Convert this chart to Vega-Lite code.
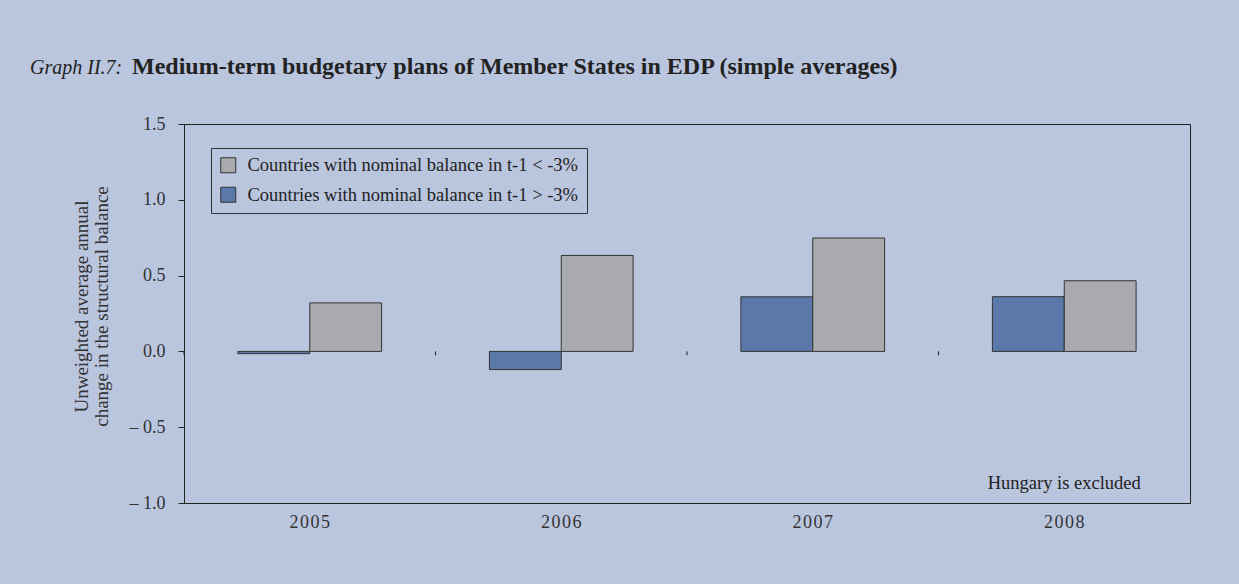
{
  "$schema": "https://vega.github.io/schema/vega-lite/v6.json",
  "width": 1006,
  "height": 379,
  "autosize": {"type": "none"},
  "padding": {"left": 184, "top": 124, "right": 49, "bottom": 81},
  "background": "#BAC5DE",
  "title": {
    "text": "Graph II.7:",
    "subtitle": "\u200b\u00a0\u00a0\u00a0\u00a0\u00a0\u00a0\u00a0\u00a0\u00a0\u00a0\u00a0\u00a0\u00a0\u00a0\u00a0\u00a0\u00a0Medium-term budgetary plans of Member States in EDP (simple averages)",
    "anchor": "start",
    "frame": "group",
    "dx": -154,
    "offset": 33,
    "font": "Liberation Serif",
    "fontSize": 20,
    "fontStyle": "italic",
    "fontWeight": "normal",
    "color": "#222222",
    "subtitleFont": "Liberation Serif",
    "subtitleFontSize": 24,
    "subtitleFontWeight": "bold",
    "subtitleColor": "#222222",
    "subtitlePadding": -23
  },
  "datasets": {
    "bars": [
      {"year": "2005", "series": "Countries with nominal balance in t-1 > -3%", "value": -0.015},
      {"year": "2005", "series": "Countries with nominal balance in t-1 < -3%", "value": 0.32},
      {"year": "2006", "series": "Countries with nominal balance in t-1 > -3%", "value": -0.12},
      {"year": "2006", "series": "Countries with nominal balance in t-1 < -3%", "value": 0.633},
      {"year": "2007", "series": "Countries with nominal balance in t-1 > -3%", "value": 0.36},
      {"year": "2007", "series": "Countries with nominal balance in t-1 < -3%", "value": 0.748},
      {"year": "2008", "series": "Countries with nominal balance in t-1 > -3%", "value": 0.361},
      {"year": "2008", "series": "Countries with nominal balance in t-1 < -3%", "value": 0.466}
    ],
    "years": [
      {"year": "2005"}, {"year": "2006"}, {"year": "2007"}, {"year": "2008"}
    ],
    "note": [
      {"year": "2008", "value": -0.868, "note": "Hungary is excluded"}
    ]
  },
  "layer": [
    {
      "data": {"name": "bars"},
      "mark": {"type": "bar", "stroke": "#333333", "strokeWidth": 1},
      "encoding": {
        "x": {
          "field": "year",
          "type": "nominal",
          "scale": {"paddingInner": 0, "paddingOuter": 0},
          "axis": {
            "title": null,
            "orient": "bottom",
            "domain": false,
            "ticks": false,
            "labelAngle": 0,
            "labelFont": "Liberation Serif",
            "labelFontSize": 18,
            "labelColor": "#333333",
            "labelPadding": 10,
            "labelExpr": "join(split(datum.label, ''), '\u200a')"
          }
        },
        "xOffset": {
          "field": "series",
          "type": "nominal",
          "sort": ["Countries with nominal balance in t-1 > -3%", "Countries with nominal balance in t-1 < -3%"],
          "scale": {"paddingInner": 0, "paddingOuter": 0.75}
        },
        "y": {
          "field": "value",
          "type": "quantitative",
          "scale": {"domain": [-1, 1.5], "nice": false},
          "axis": {
            "title": ["Unweighted average annual", "change in the structural balance"],
            "titleFont": "Liberation Serif",
            "titleFontSize": 19,
            "titleFontWeight": "normal",
            "titleColor": "#333333",
            "titleLineHeight": 20,
            "titleBaseline": "middle",
            "titleX": -103,
            "titleY": 182,
            "values": [-1, -0.5, 0, 0.5, 1, 1.5],
            "grid": false,
            "domainColor": "#222222",
            "tickColor": "#222222",
            "tickSize": 6,
            "labelFont": "Liberation Serif",
            "labelFontSize": 18,
            "labelColor": "#333333",
            "labelPadding": 13,
            "labelExpr": "datum.value < 0 ? '\u2013 ' + format(-datum.value, '.1f') : format(datum.value, '.1f')"
          }
        },
        "y2": {"datum": 0},
        "color": {
          "field": "series",
          "type": "nominal",
          "scale": {
            "domain": ["Countries with nominal balance in t-1 < -3%", "Countries with nominal balance in t-1 > -3%"],
            "range": ["#A9AAAE", "#5A78A9"]
          },
          "legend": {
            "title": null,
            "orient": "none",
            "legendX": 27,
            "legendY": 24,
            "strokeColor": "#333333",
            "fillColor": "#BAC5DE",
            "padding": 8,
            "symbolType": "square",
            "symbolSize": 225,
            "symbolStrokeColor": "#333333",
            "symbolStrokeWidth": 1,
            "symbolOpacity": 1,
            "labelFont": "Liberation Serif",
            "labelFontSize": 18.5,
            "labelColor": "#222222",
            "labelOffset": 10,
            "labelLimit": 500,
            "rowPadding": 9.5
          }
        }
      }
    },
    {
      "mark": {"type": "rule", "color": "#222222", "strokeWidth": 1},
      "encoding": {"y": {"datum": 0}}
    },
    {
      "mark": {"type": "rule", "color": "#444444", "strokeWidth": 1.5, "strokeDash": [12, 7]},
      "encoding": {"y": {"datum": 0.5}}
    },
    {
      "data": {"name": "years"},
      "mark": {"type": "rule", "color": "#222222", "strokeWidth": 1},
      "encoding": {
        "x": {"field": "year", "type": "nominal", "bandPosition": 0},
        "y": {"datum": 0},
        "y2": {"datum": -0.025}
      }
    },
    {
      "data": {"name": "note"},
      "mark": {"type": "text", "font": "Liberation Serif", "fontSize": 18.5, "color": "#222222", "align": "center", "baseline": "middle"},
      "encoding": {
        "x": {"field": "year", "type": "nominal"},
        "y": {"field": "value", "type": "quantitative"},
        "text": {"field": "note"}
      }
    }
  ],
  "config": {
    "view": {"stroke": "#222222", "strokeWidth": 1, "fill": "#BAC5DE"}
  }
}
